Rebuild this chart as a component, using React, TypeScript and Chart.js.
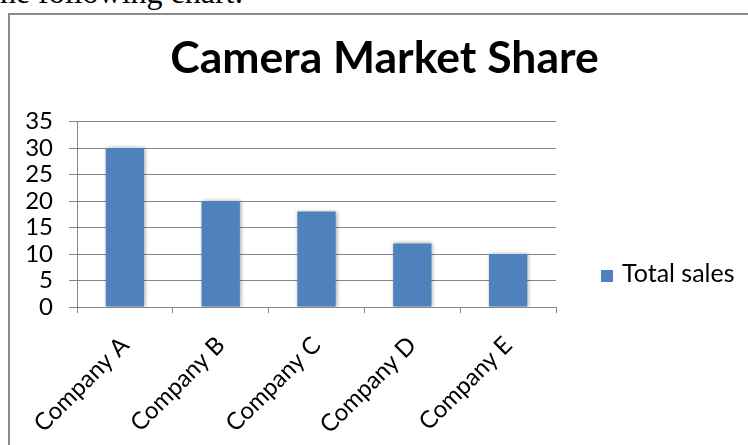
import React, { useEffect, useRef } from "react";
import { Chart, registerables } from "chart.js";

Chart.register(...registerables);

const introText = "the following chart:";
const chartTitle = "Camera Market Share";
const seriesLabel = "Total sales";
const categories = ["Company A", "Company B", "Company C", "Company D", "Company E"];
const totalSales = [30, 20, 18, 12, 10];
const yMin = 0;
const yMax = 35;
const yStep = 5;

const BAR_COLOR = "#4F81BD";
const GRID_COLOR = "#868686";
const FONT = "Lato";

export default function App() {
  const ref = useRef<HTMLCanvasElement | null>(null);

  useEffect(() => {
    const canvas = ref.current;
    if (!canvas) return;

    const shadowPlugin = {
      id: "barShadow",
      beforeDatasetsDraw(chart: any) {
        const ctx = chart.ctx;
        ctx.save();
        ctx.shadowColor = "rgba(0,0,0,0.35)";
        ctx.shadowBlur = 4;
        ctx.shadowOffsetX = 1;
        ctx.shadowOffsetY = 0;
      },
      afterDatasetsDraw(chart: any) {
        chart.ctx.restore();
      },
    };

    const sideLegend = {
      id: "sideLegend",
      afterDraw(chart: any) {
        const { ctx, chartArea } = chart;
        const ds = chart.data.datasets[0];
        const x = chartArea.right + 45;
        const yMid = chartArea.bottom - 31;
        ctx.save();
        ctx.fillStyle = ds.backgroundColor;
        ctx.fillRect(x, yMid - 6, 12, 12);
        ctx.fillStyle = "#000";
        ctx.font = `25px ${FONT}`;
        ctx.textAlign = "left";
        ctx.textBaseline = "alphabetic";
        ctx.fillText(ds.label, x + 21, chartArea.bottom - 25);
        ctx.restore();
      },
    };

    const chart = new Chart(canvas, {
      type: "bar",
      data: {
        labels: categories,
        datasets: [
          {
            label: seriesLabel,
            data: totalSales,
            backgroundColor: BAR_COLOR,
            borderWidth: 0,
            categoryPercentage: 1,
            barPercentage: 0.4,
            yAxisID: "y",
          },
        ],
      },
      options: {
        responsive: false,
        animation: false,
        devicePixelRatio: 1,
        layout: { padding: { left: 0, right: 0, top: 0, bottom: 0 } },
        plugins: {
          legend: { display: false },
          tooltip: { enabled: false },
          title: {
            display: true,
            text: chartTitle,
            color: "#000",
            font: { family: FONT, size: 44.5, weight: "bold", lineHeight: 1.2 },
            padding: { top: 17, bottom: 36.1 },
          },
        },
        scales: {
          x: {
            offset: true,
            afterFit(scale: any) {
              scale.height = 138;
            },
            grid: {
              display: true,
              drawOnChartArea: false,
              drawTicks: true,
              tickLength: 6,
              color: GRID_COLOR,
              offset: true,
            },
            border: { display: true, color: GRID_COLOR, width: 1 },
            ticks: {
              color: "#000",
              font: { family: FONT, size: 24 },
              minRotation: 45,
              maxRotation: 45,
              autoSkip: false,
              padding: 18,
            },
          },
          y: {
            min: yMin,
            max: yMax,
            position: "left",
            afterFit(scale: any) {
              scale.width = 67;
            },
            grid: {
              color: GRID_COLOR,
              drawTicks: true,
              tickLength: 8,
              lineWidth: 1,
            },
            border: { display: true, color: GRID_COLOR, width: 1 },
            ticks: {
              stepSize: yStep,
              autoSkip: false,
              color: "#000",
              font: { family: FONT, size: 24 },
              padding: 16,
            },
          },
          legendSpace: {
            type: "linear",
            position: "right",
            display: true,
            min: yMin,
            max: yMax,
            afterFit(scale: any) {
              scale.width = 203;
            },
            grid: { display: false, drawTicks: false },
            border: { display: false },
            ticks: { display: false },
          },
        },
      },
      plugins: [shadowPlugin, sideLegend],
    });

    return () => chart.destroy();
  }, []);

  return (
    <div
      style={{
        position: "fixed",
        left: 0,
        top: 0,
        width: 748,
        height: 445,
        overflow: "hidden",
        background: "#fff",
      }}
    >
      <div
        style={{
          position: "absolute",
          left: -9,
          top: -24,
          fontFamily: "'Liberation Serif', serif",
          fontSize: 32,
          lineHeight: "32px",
          whiteSpace: "nowrap",
          color: "#000",
        }}
      >
        {introText}
      </div>
      <div
        style={{
          position: "absolute",
          left: 8,
          top: 13,
          width: 800,
          height: 500,
          borderLeft: "2px solid #8a8a8a",
          borderTop: "2px solid #8a8a8a",
        }}
      />
      <canvas
        ref={ref}
        width={749}
        height={430}
        style={{ position: "absolute", left: 10, top: 15, width: 749, height: 430 }}
      />
    </div>
  );
}
